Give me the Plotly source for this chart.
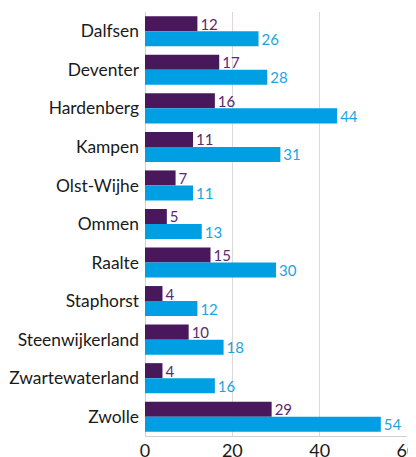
import plotly.graph_objects as go

categories = ["Dalfsen", "Deventer", "Hardenberg", "Kampen", "Olst-Wijhe", "Ommen",
              "Raalte", "Staphorst", "Steenwijkerland", "Zwartewaterland", "Zwolle"]
series_purple = [12, 17, 16, 11, 7, 5, 15, 4, 10, 4, 29]
series_blue = [26, 28, 44, 31, 11, 13, 30, 12, 18, 16, 54]
tick_vals = [0, 20, 40, 60]

label_font = "Lato"

fig = go.Figure()
fig.add_trace(go.Bar(
    y=categories, x=series_purple, orientation="h",
    marker=dict(color="#48175c", line=dict(width=0)),
    text=[str(v) for v in series_purple], textposition="outside", constraintext="none",
    textfont=dict(color="#5b2a6e", size=15, family=label_font),
    cliponaxis=False, showlegend=False,
))
fig.add_trace(go.Bar(
    y=categories, x=series_blue, orientation="h",
    marker=dict(color="#009fe3", line=dict(width=0)),
    text=[str(v) for v in series_blue], textposition="outside", constraintext="none",
    textfont=dict(color="#1ea4e0", size=15, family=label_font),
    cliponaxis=False, showlegend=False,
))

# page body has an 8px margin, so the figure is shifted by 8px
fig.update_layout(
    width=408, height=449,
    margin=dict(l=137, r=9, t=4, b=21, autoexpand=False),
    barmode="group", bargap=0.22, bargroupgap=0,
    plot_bgcolor="white", paper_bgcolor="white",
    font=dict(family=label_font, color="#1a1a1a"),
    xaxis=dict(range=[0, 60], tickvals=tick_vals, showgrid=True, gridcolor="#d9d9d9",
               gridwidth=1, zeroline=True, zerolinecolor="#d0d0d0", zerolinewidth=1,
               showline=True, linecolor="#d0d0d0", linewidth=1, automargin=False,
               ticklabeloverflow="allow", ticklabelstandoff=-2,
               tickfont=dict(size=18, color="#1a1a1a"), ticks=""),
    yaxis=dict(autorange="reversed", showgrid=False, ticks="", ticklabelstandoff=5,
               automargin=False,
               tickfont=dict(size=17.4, color="#1a1a1a"), showline=False),
)

fig.write_html("out.html")
